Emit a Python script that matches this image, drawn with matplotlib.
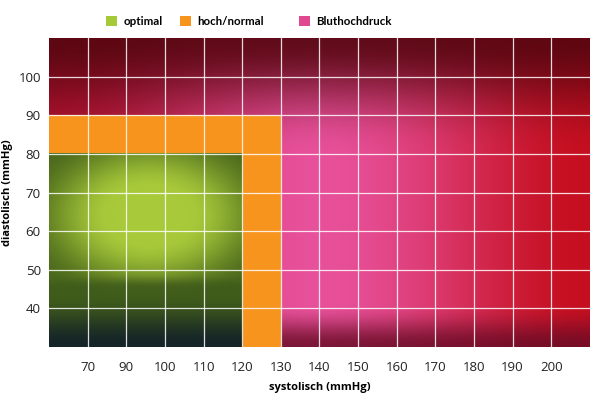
import numpy as np
import matplotlib
matplotlib.use("Agg")
import matplotlib.pyplot as plt
from matplotlib.patches import Patch
from matplotlib.colors import to_rgb

# ---- data ----
categories = ["optimal", "hoch/normal", "Bluthochdruck"]
category_colors = ["#a6c93a", "#f7941d", "#e0498f"]
systolic_limits = [120, 130]      # upper systolic bound of optimal, hoch/normal
diastolic_limits = [80, 90]       # upper diastolic bound of optimal, hoch/normal
x_range = [70, 210]
y_range = [30, 110]
x_tick_pos = [80, 90, 100, 110, 120, 130, 140, 150, 160, 170, 180, 190, 200]
x_tick_labels = ["70", "90", "100", "110", "120", "130", "140", "150", "160",
                 "170", "180", "190", "200"]
y_ticks = [40, 50, 60, 70, 80, 90, 100]

plt.rcParams['font.family'] = ['Open Sans', 'DejaVu Sans']

fig = plt.figure(figsize=(6, 4), dpi=100)
ax = fig.add_axes([0.082, 0.1325, 0.901, 0.7725])


def mix(a, b, w):
    return a * (1 - w[..., None]) + b * w[..., None]


def smooth(e0, e1, x):
    t = np.clip((x - e0) / (e1 - e0), 0, 1)
    return t * t * (3 - 2 * t)


# pink (Bluthochdruck) background with vignette
nx, ny = 600, 320
xs = np.linspace(x_range[0], x_range[1], nx)
ys = np.linspace(y_range[1], y_range[0], ny)
X, Y = np.meshgrid(xs, ys)
u = (X - x_range[0]) / (x_range[1] - x_range[0])
v = (Y - y_range[0]) / (y_range[1] - y_range[0])
img = np.ones((ny, nx, 3)) * np.array(to_rgb("#e8519b"))
img = mix(img, np.array(to_rgb("#c40c1a")), smooth(0.45, 1.0, u) ** 1.3 * 0.95)
img = mix(img, np.array(to_rgb("#b2102c")), smooth(0.5, 0.0, u) * 0.95)
img = mix(img, np.array(to_rgb("#560610")), smooth(0.6, 1.0, v) ** 1.3 * 0.92)
img = mix(img, np.array(to_rgb("#6a0c26")), smooth(0.14, 0.0, v) ** 1.1 * 0.85)
ax.imshow(img, extent=[x_range[0], x_range[1], y_range[0], y_range[1]],
          aspect='auto', interpolation='bilinear', zorder=0)

# hoch/normal
ax.bar(x_range[0], diastolic_limits[1] - y_range[0], width=systolic_limits[1] - x_range[0],
       bottom=y_range[0], align='edge', color=category_colors[1], linewidth=0, zorder=1)

# optimal with glow
gx = np.linspace(x_range[0], systolic_limits[0], 300)
gy = np.linspace(diastolic_limits[0], y_range[0], 250)
GX, GY = np.meshgrid(gx, gy)
r = np.sqrt(((GX - 96) / 28) ** 2 + ((GY - 64) / 19) ** 2)
gimg = np.ones(GX.shape + (3,)) * np.array(to_rgb("#a8ca3a"))
gimg = mix(gimg, np.array(to_rgb("#4c6a1c")), smooth(0.35, 1.25, r))
gimg = mix(gimg, np.array(to_rgb("#3e5a1a")), smooth(49, 45, GY) * 0.85)
gimg = mix(gimg, np.array(to_rgb("#152428")), smooth(44, 30, GY) ** 1.1)
ax.imshow(gimg, extent=[x_range[0], systolic_limits[0], y_range[0], diastolic_limits[0]],
          aspect='auto', interpolation='bilinear', zorder=2)

ax.set_xlim(x_range)
ax.set_ylim(y_range)
ax.set_xticks(x_tick_pos)
ax.set_xticklabels(x_tick_labels)
ax.set_yticks(y_ticks)
ax.grid(True, color='white', linewidth=0.9, alpha=0.85, zorder=3)
ax.set_axisbelow(False)
for s in ax.spines.values():
    s.set_visible(False)
ax.tick_params(axis='both', length=0, labelsize=9.5, colors='#222222')
ax.tick_params(axis='x', pad=10)
ax.tick_params(axis='y', pad=6)
ax.set_xlabel("systolisch (mmHg)", fontsize=8, fontweight='bold', labelpad=6)
ax.set_ylabel("diastolisch (mmHg)", fontsize=8, fontweight='bold', labelpad=4)

# legend entries placed individually to match the reference spacing
legend_anchor_x = [0.177, 0.300, 0.498]
for lab, col, lx in zip(categories, category_colors, legend_anchor_x):
    fig.legend([Patch(facecolor=col, edgecolor='none')], [lab], loc='center left',
               bbox_to_anchor=(lx, 0.946), frameon=False, borderpad=0,
               borderaxespad=0, handlelength=0.95, handleheight=0.95,
               handletextpad=0.55,
               prop={'family': ['Lato', 'DejaVu Sans'], 'size': 8.3, 'weight': 'bold'})

fig.savefig("out.png", dpi=100)
